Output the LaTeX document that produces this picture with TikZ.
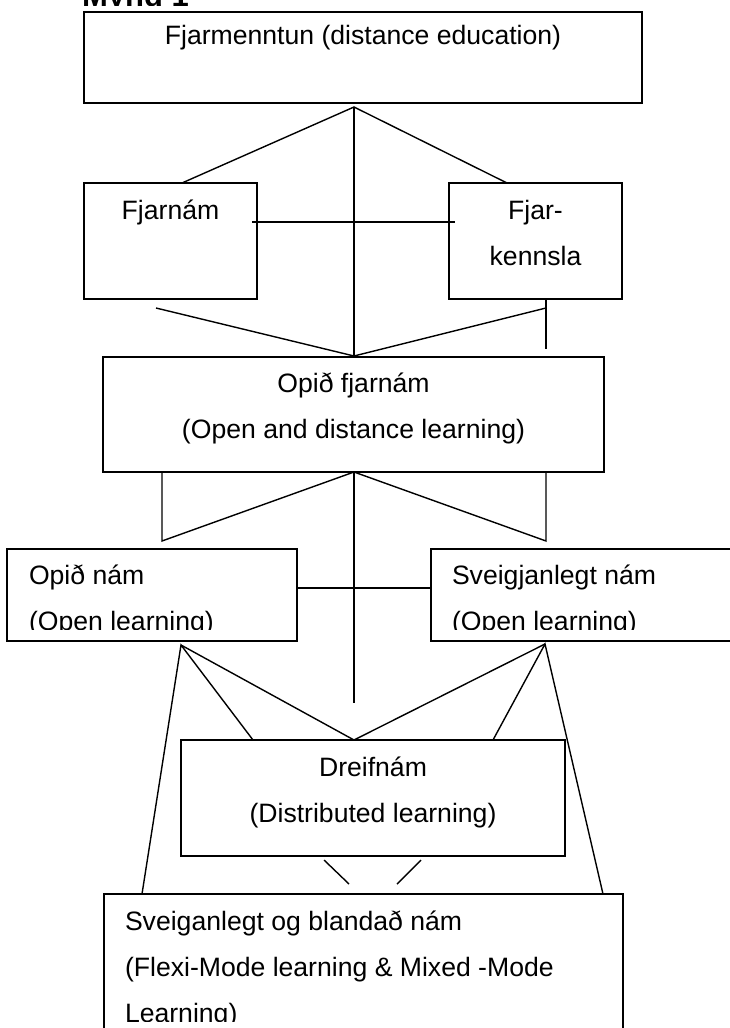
\documentclass[tikz,border=0pt]{standalone}
\usepackage{fontspec}
\setmainfont{Liberation Sans}
\begin{document}
\begin{tikzpicture}[x=1pt,y=-1pt,
  box/.style={draw, line width=1.8pt, inner sep=0pt, outer sep=0pt},
  conn/.style={line width=1.4pt, line cap=butt, line join=miter},
  lbl/.style={inner sep=0pt, outer sep=0pt, font=\fontsize{26.6pt}{46pt}\selectfont},
  lblc/.style={lbl, anchor=base},
  lbll/.style={lbl, anchor=base west},
  ttl/.style={inner sep=0pt, outer sep=0pt, anchor=base west, font=\fontsize{31pt}{36pt}\selectfont\bfseries}]
\useasboundingbox (0,0) rectangle (730,1028);

% boxes
\node[box, minimum width=558pt, minimum height=91pt] (top) at (363,57.5) {};
\node[box, minimum width=173pt, minimum height=116pt] (fn) at (170.5,241) {};
\node[box, minimum width=173pt, minimum height=116pt] (fk) at (535.5,241) {};
\node[box, minimum width=501pt, minimum height=115pt] (of) at (353.5,414.5) {};
\node[box, minimum width=290pt, minimum height=92pt] (on) at (152,595) {};
\node[box, minimum width=304pt, minimum height=92pt] (sn) at (583,595) {};
\node[box, minimum width=384pt, minimum height=116pt] (dr) at (373,798) {};
\node[box, minimum width=519pt, minimum height=151pt] (bb) at (363.5,969.5) {};

% free points of the connectors
\coordinate (a1) at (354,107);
\coordinate (fnT) at (182,183);
\coordinate (fkT) at (507,183);
\coordinate (hl1) at (252,222);
\coordinate (hl2) at (455,222);
\coordinate (ofT) at (354,356);
\coordinate (lb1) at (156,308);
\coordinate (rb1) at (546,308);
\coordinate (rv1) at (546,299);
\coordinate (rv2) at (546,349);
\coordinate (ofB) at (354,472);
\coordinate (vl1) at (162,472);
\coordinate (vl2) at (162,541);
\coordinate (vr1) at (546,472);
\coordinate (vr2) at (546,541);
\coordinate (vEnd) at (354,703);
\coordinate (hm1) at (297,588);
\coordinate (hm2) at (431,588);
\coordinate (fl) at (181,645);
\coordinate (fr) at (545,644);
\coordinate (bbL) at (142,894);
\coordinate (drL) at (253,740);
\coordinate (drM) at (354,740);
\coordinate (drR) at (493,740);
\coordinate (bbR) at (603,894);
\coordinate (s1a) at (324,860);
\coordinate (s1b) at (349,884);
\coordinate (s2a) at (421,860);
\coordinate (s2b) at (397,884);

% connectors
\draw[conn] (fnT) -- (a1) -- (fkT);
\draw[conn] (a1) -- (ofT);
\draw[conn] (hl1) -- (hl2);
\draw[conn] (lb1) -- (ofT) -- (rb1);
\draw[conn] (rv1) -- (rv2);
\draw[conn] (vl1) -- (vl2) -- (ofB) -- (vr2) -- (vr1);
\draw[conn] (ofB) -- (vEnd);
\draw[conn] (hm1) -- (hm2);
\draw[conn] (bbL) -- (fl) -- (drL);
\draw[conn] (fl) -- (drM) -- (fr);
\draw[conn] (drR) -- (fr) -- (bbR);
\draw[conn] (s1a) -- (s1b);
\draw[conn] (s2a) -- (s2b);

% texts
\begin{scope}
  \clip (0,0) rectangle (730,5.8);
  \node[ttl] (mynd) at (82,6) {Mynd 1};
\end{scope}
\node[lblc] (ttop) at (363,44) {Fjarmenntun (distance education)};
\node[lblc] (tfn) at (170.5,219) {Fjarnám};
\node[lblc] (tfk1) at (535.5,219) {Fjar-};
\node[lblc] (tfk2) at (535.5,265) {kennsla};
\node[lblc] (tof1) at (353.5,392) {Opið fjarnám};
\node[lblc] (tof2) at (353.5,438) {(Open and distance learning)};
\begin{scope}
  \clip (0,540) rectangle (730,629.5);
  \node[lbll] (ton1) at (29,584) {Opið nám};
  \node[lbll] (ton2) at (29,630) {(Open learning)};
  \node[lbll] (tsn1) at (452,584) {Sveigjanlegt nám};
  \node[lbll] (tsn2) at (452,630) {(Open learning)};
\end{scope}
\node[lblc] (tdr1) at (373,776) {Dreifnám};
\node[lblc] (tdr2) at (373,822) {(Distributed learning)};
\begin{scope}
  \clip (0,890) rectangle (730,1021.5);
  \node[lbll] (tbb1) at (125,930) {Sveiganlegt og blandað nám};
  \node[lbll] (tbb2) at (125,976) {(Flexi-Mode learning \& Mixed -Mode};
  \node[lbll] (tbb3) at (125,1022) {Learning)};
\end{scope}
\end{tikzpicture}
\end{document}
